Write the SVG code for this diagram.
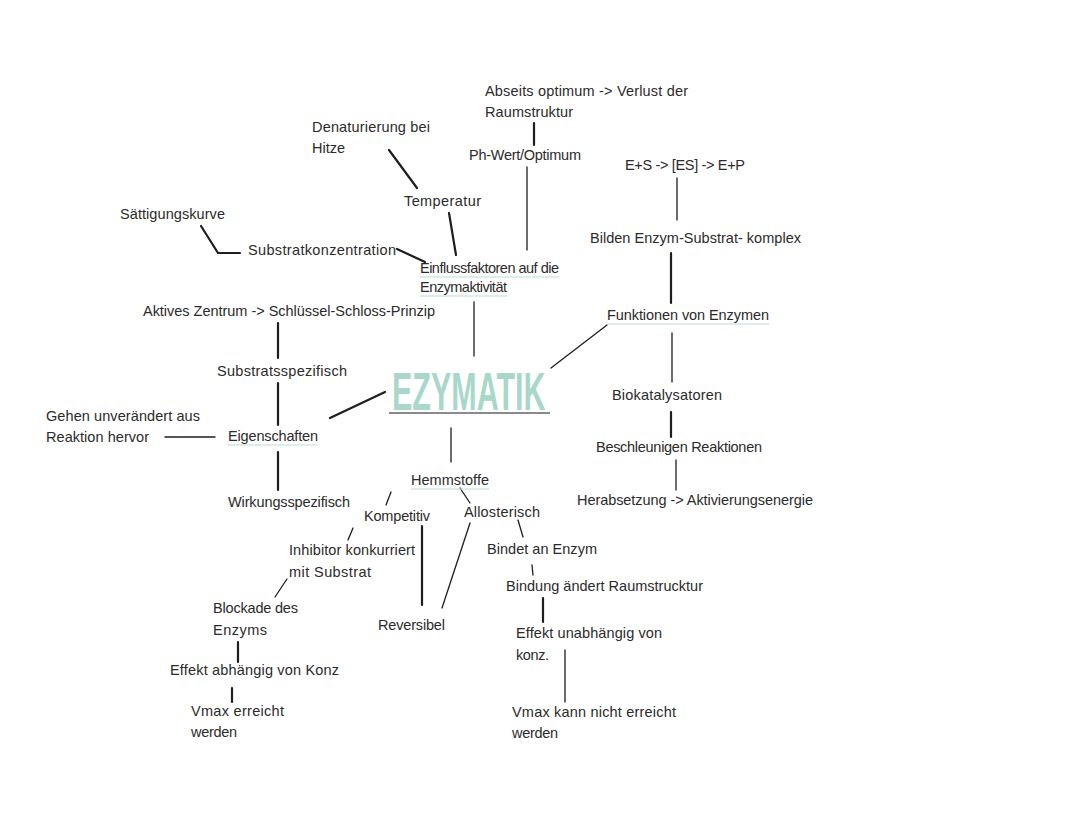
<svg xmlns="http://www.w3.org/2000/svg" width="1080" height="836" viewBox="0 0 1080 836">
<style>
text{font-family:"Liberation Sans",Arial,sans-serif;font-size:14.5px;fill:#2b2b2b}
.c line,.c polyline{stroke:#1e1e1e;stroke-width:1.3;fill:none;stroke-linecap:round}
.c .b{stroke-width:2.2}
.u{stroke:#b9ddd3;stroke-width:1.2}
.title{font-family:"Liberation Sans",Arial,sans-serif;font-size:54px;font-weight:bold;fill:#a9d8cb}
</style>
<rect width="1080" height="836" fill="#ffffff"/>
<g class="c" id="connectors">
<line class="b" x1="534" y1="123" x2="534" y2="145"/>
<line x1="527" y1="167" x2="527" y2="250"/>
<line class="b" x1="389" y1="150" x2="417" y2="188"/>
<line class="b" x1="449" y1="213" x2="456" y2="255"/>
<polyline class="b" points="201,226 218,253 240,253"/>
<line class="b" x1="397" y1="249" x2="425" y2="262"/>
<line x1="474" y1="302" x2="474" y2="356"/>
<line class="b" x1="278" y1="323" x2="278" y2="358"/>
<line class="b" x1="278" y1="383" x2="278" y2="425"/>
<line class="b" x1="330" y1="418" x2="385" y2="392"/>
<line x1="165" y1="437" x2="215" y2="437"/>
<line class="b" x1="278" y1="452" x2="278" y2="490"/>
<line x1="451" y1="428" x2="451" y2="462"/>
<line x1="391" y1="492" x2="386" y2="505"/>
<line x1="460" y1="488" x2="470" y2="503"/>
<line x1="353" y1="528" x2="348" y2="540"/>
<line x1="287" y1="579" x2="275" y2="597"/>
<line class="b" x1="238" y1="642" x2="238" y2="662"/>
<line class="b" x1="232" y1="688" x2="232" y2="702"/>
<line class="b" x1="422" y1="526" x2="422" y2="605"/>
<line x1="470" y1="523" x2="442" y2="608"/>
<line x1="518" y1="520" x2="523" y2="537"/>
<line x1="532" y1="565" x2="533" y2="575"/>
<line class="b" x1="543" y1="598" x2="543" y2="622"/>
<line x1="565" y1="650" x2="565" y2="702"/>
<line x1="677" y1="178" x2="677" y2="220"/>
<line class="b" x1="671" y1="253" x2="671" y2="303"/>
<line x1="607" y1="325" x2="551" y2="368"/>
<line x1="672" y1="333" x2="672" y2="382"/>
<line class="b" x1="671" y1="412" x2="671" y2="437"/>
<line x1="676" y1="460" x2="676" y2="490"/>
</g>
<g id="title">
<text class="title" transform="translate(392,410) scale(0.565,1)" x="0" y="0">EZYMATIK</text>
<line x1="389" y1="413" x2="550" y2="413" stroke="#8a8a8a" stroke-width="2"/>
</g>
<g id="abseits"><text x="485" y="96" textLength="203">Abseits optimum -&gt; Verlust der</text><text x="485" y="117" textLength="88">Raumstruktur</text></g>
<g id="phwert"><text x="469" y="160" textLength="112">Ph-Wert/Optimum</text></g>
<g id="denaturierung"><text x="312" y="132" textLength="118">Denaturierung bei</text><text x="312" y="153" textLength="33">Hitze</text></g>
<g id="temperatur"><text x="404" y="206" textLength="77">Temperatur</text></g>
<g id="saettigung"><text x="120" y="219" textLength="105">Sättigungskurve</text></g>
<g id="substratkonz"><text x="248" y="255" textLength="148">Substratkonzentration</text></g>
<g id="einfluss"><text x="420" y="273" textLength="139">Einflussfaktoren auf die</text><text x="420" y="292" textLength="87">Enzymaktivität</text>
<line class="u" x1="420" y1="277" x2="559" y2="277"/><line class="u" x1="420" y1="296" x2="507" y2="296"/></g>
<g id="aktives"><text x="143" y="316" textLength="292">Aktives Zentrum -&gt; Schlüssel-Schloss-Prinzip</text></g>
<g id="substratspez"><text x="217" y="376" textLength="130">Substratsspezifisch</text></g>
<g id="gehen"><text x="46" y="421" textLength="154">Gehen unverändert aus</text><text x="46" y="442" textLength="103">Reaktion hervor</text></g>
<g id="eigenschaften"><text x="228" y="441" textLength="90">Eigenschaften</text><line class="u" x1="228" y1="445" x2="318" y2="445"/></g>
<g id="wirkungsspez"><text x="228" y="507" textLength="122">Wirkungsspezifisch</text></g>
<g id="hemmstoffe"><text x="411" y="485" textLength="78">Hemmstoffe</text><line class="u" x1="411" y1="489" x2="489" y2="489"/></g>
<g id="kompetitiv"><text x="364" y="521" textLength="66">Kompetitiv</text></g>
<g id="allosterisch"><text x="464" y="517" textLength="76">Allosterisch</text></g>
<g id="inhibitor"><text x="289" y="555" textLength="126">Inhibitor konkurriert</text><text x="289" y="577" textLength="82">mit Substrat</text></g>
<g id="blockade"><text x="213" y="613" textLength="85">Blockade des</text><text x="213" y="635" textLength="54">Enzyms</text></g>
<g id="effektabh"><text x="170" y="675" textLength="169">Effekt abhängig von Konz</text></g>
<g id="vmaxerreicht"><text x="191" y="716" textLength="93">Vmax erreicht</text><text x="191" y="737" textLength="46">werden</text></g>
<g id="reversibel"><text x="378" y="630" textLength="67">Reversibel</text></g>
<g id="bindet"><text x="487" y="554" textLength="110">Bindet an Enzym</text></g>
<g id="bindung"><text x="506" y="591" textLength="197">Bindung ändert Raumstrucktur</text></g>
<g id="effektunabh"><text x="516" y="638" textLength="146">Effekt unabhängig von</text><text x="516" y="660" textLength="33">konz.</text></g>
<g id="vmaxnicht"><text x="512" y="717" textLength="164">Vmax kann nicht erreicht</text><text x="512" y="738" textLength="46">werden</text></g>
<g id="es"><text x="625" y="170" textLength="120">E+S -&gt; [ES] -&gt; E+P</text></g>
<g id="bilden"><text x="590" y="243" textLength="211">Bilden Enzym-Substrat- komplex</text></g>
<g id="funktionen"><text x="607" y="320" textLength="162">Funktionen von Enzymen</text><line class="u" x1="607" y1="324" x2="769" y2="324"/></g>
<g id="biokat"><text x="612" y="400" textLength="110">Biokatalysatoren</text></g>
<g id="beschleunigen"><text x="596" y="452" textLength="166">Beschleunigen Reaktionen</text></g>
<g id="herabsetzung"><text x="577" y="505" textLength="236">Herabsetzung -&gt; Aktivierungsenergie</text></g>
</svg>
